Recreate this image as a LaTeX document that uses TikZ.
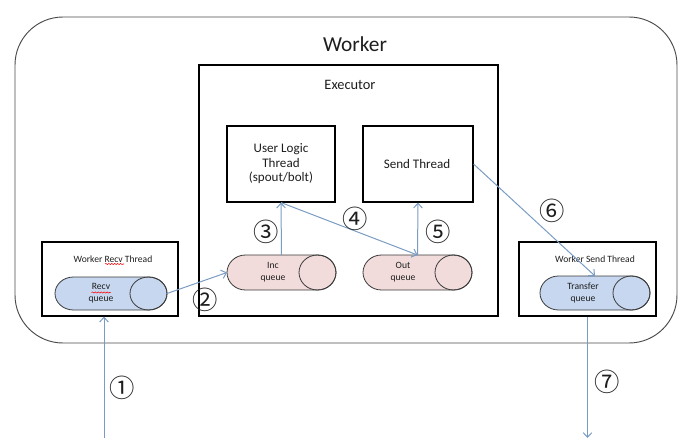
\documentclass[tikz,border=0pt]{standalone}
\usepackage{fontspec}
\setmainfont{Carlito}
\newfontfamily\cjk{Noto Sans CJK SC}
\usetikzlibrary{arrows.meta,calc,decorations.pathmorphing}
\definecolor{arrowc}{HTML}{7B9CC2}
\definecolor{qblue}{HTML}{C6D7EF}
\definecolor{qpink}{HTML}{F1DCDB}
\definecolor{edgec}{HTML}{3A3A3A}
\definecolor{outerc}{HTML}{4A4A4A}
\definecolor{txtc}{HTML}{1E1E1E}
\newcommand\myqueue[5]{%
  \node[minimum width=#3*0.75pt, minimum height=#4*0.75pt, inner sep=0pt, outer sep=0pt] (#1) at (#2) {};
  \draw[qedge, fill=#5] ($(#1.north west)+(18.5,0)$) -- ($(#1.north east)+(-18.5,0)$)
     arc[start angle=90, end angle=-90, x radius=18.5, y radius={#4/2}]
     -- ($(#1.south west)+(18.5,0)$)
     arc[start angle=270, end angle=90, x radius=18.5, y radius={#4/2}] -- cycle;
  \draw[qedge] ($(#1.east)+(-18.5,0)$) ellipse[x radius=18.5, y radius={#4/2}];
}
\begin{document}
\begin{tikzpicture}[x=0.75pt,y=0.75pt,
  box/.style={draw=black, line width=0.85pt, inner sep=0pt},
  qedge/.style={draw=edgec, line width=0.6pt},
  arr/.style={draw=arrowc, line width=0.75pt, -{Straight Barb[length=3.5pt,width=6.5pt]}},
  numl/.style={text=txtc, font=\cjk\fontsize{19}{19}\selectfont, inner sep=0pt},
  smalltxt/.style={text=txtc, font=\fontsize{7.2}{8.7}\selectfont, align=center, inner sep=0pt},
  midtxt/.style={text=txtc, font=\fontsize{9.8}{10.9}\selectfont, align=center, inner sep=0pt},
  wavy/.style={draw=red, line width=0.4pt, decorate, decoration={snake, amplitude=0.45pt, segment length=2.2pt}}]
\useasboundingbox (0,0) rectangle (690,-447);

% Worker
\node[draw=outerc, line width=0.7pt, rounded corners=36pt, minimum width=662*0.75pt, minimum height=326*0.75pt, inner sep=0pt] (worker) at (346,-180) {};
\node[text=txtc, font=\fontsize{16}{19}\selectfont, inner sep=0pt] (wtitle) at (355,-44) {Worker};

% Executor
\node[box, minimum width=299*0.75pt, minimum height=251*0.75pt] (exec) at (348.5,-190.5) {};
\node[text=txtc, font=\fontsize{10.8}{13}\selectfont, inner sep=0pt] (etitle) at (350,-85) {Executor};

\node[box, minimum width=108*0.75pt, minimum height=76*0.75pt] (user) at (281,-164) {};
\node[midtxt] (usertxt) at (281,-164) {User Logic\\Thread\\(spout/bolt)};
\node[box, minimum width=110*0.75pt, minimum height=76*0.75pt] (send) at (418,-164) {};
\node[midtxt] (sendtxt) at (417,-164) {Send Thread};

\myqueue{incq}{281.5,-272.5}{109}{35}{qpink}
\node[smalltxt] (inctxt) at (273,-272) {Inc\\queue};
\myqueue{outq}{417.5,-272.5}{109}{35}{qpink}
\node[smalltxt] (outtxt) at (403,-272) {Out\\queue};

% Worker Recv Thread
\node[box, minimum width=136*0.75pt, minimum height=74*0.75pt] (recvbox) at (110,-279) {};
\node[smalltxt] (recvtitle) at (113,-259) {Worker Recv Thread};
\myqueue{recvq}{111,-293.5}{112}{33}{qblue}
\node[smalltxt] (recvtxt) at (101,-293) {Recv\\queue};
\draw[wavy] (105,-264) -- (124,-264);
\draw[wavy] (91.5,-292.5) -- (110.5,-292.5);

% Worker Send Thread
\node[box, minimum width=137*0.75pt, minimum height=74*0.75pt] (sendbox) at (587.5,-279) {};
\node[smalltxt] (sendtitle) at (595,-259) {Worker Send Thread};
\myqueue{transq}{595,-293}{110}{34}{qblue}
\node[smalltxt] (transtxt) at (583,-293) {Transfer\\queue};

% connectors
\coordinate (c1) at (104,-438);
\coordinate (c7) at (587.5,-438);
\draw[arr] (c1) -- (c1 |- recvbox.south);
\draw[arr] (recvq.east) -- (incq.west);
\draw[arr] (incq.north) -- (user.south);
\draw[arr] (user.south) -- (outq.north);
\draw[arr] (outq.north) -- (send.south);
\draw[arr] (send.east) -- (transq.north);
\draw[arr] (sendbox.south) -- (c7);

% step numbers
\node[numl] (n1) at (122.5,-388) {①};
\node[numl] (n2) at (205,-300) {②};
\node[numl] (n3) at (266,-232) {③};
\node[numl] (n4) at (355,-219) {④};
\node[numl] (n5) at (438,-232) {⑤};
\node[numl] (n6) at (552,-211) {⑥};
\node[numl] (n7) at (607,-382) {⑦};
\end{tikzpicture}
\end{document}
